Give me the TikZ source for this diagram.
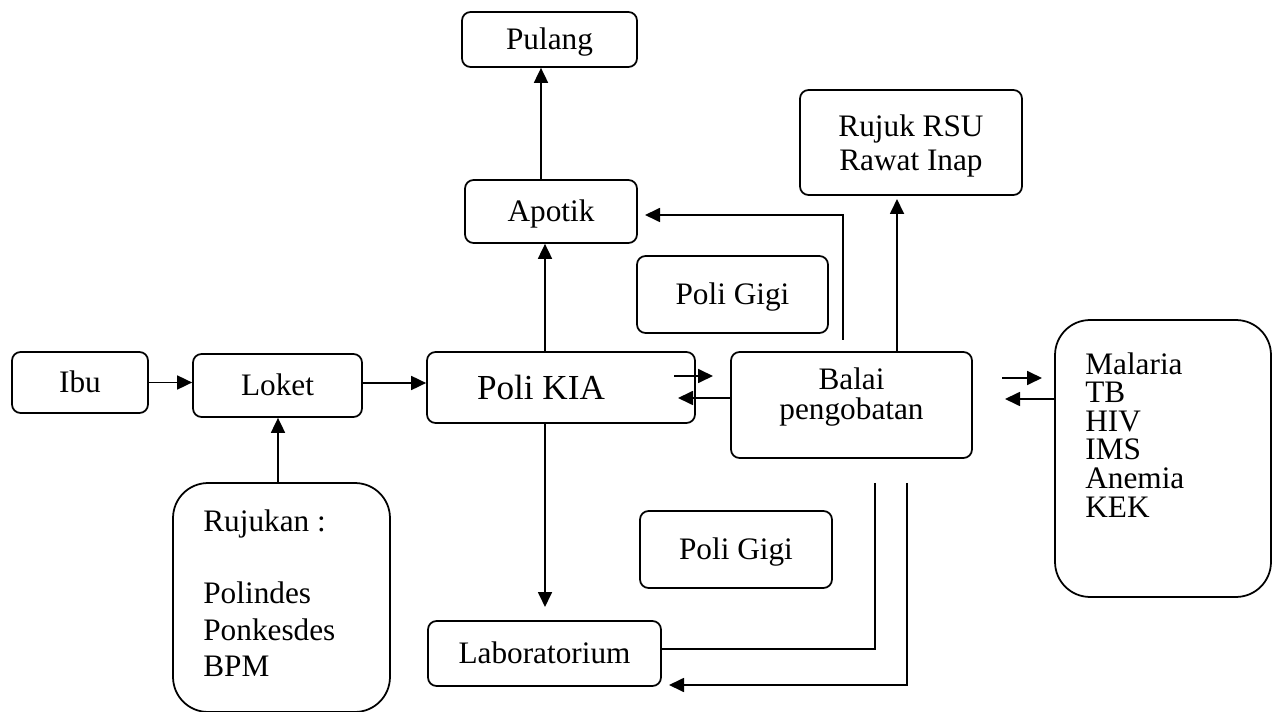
\documentclass[tikz,border=0pt]{standalone}
\usepackage{fontspec}
\setmainfont{Liberation Serif}
\usetikzlibrary{arrows.meta}
\begin{document}
\begin{tikzpicture}[x=0.02cm,y=-0.02cm,
  box/.style={draw, line width=1pt, rounded corners=0.17cm, inner sep=0pt, align=center,
    font=\fontsize{17.8pt}{19.3pt}\selectfont, text height=11.8pt, text depth=0pt},
  bigbox/.style={draw, line width=1pt, rounded corners=0.7cm, inner sep=0pt},
  txt/.style={inner sep=0pt, align=left, font=\fontsize{17.8pt}{16.3pt}\selectfont},
  conn/.style={line width=1pt},
  arr/.style={conn, -{Triangle[length=0.3cm,width=0.28cm]}}]
\useasboundingbox (0,0) rectangle (1274,712);

% boxes
\node[box, minimum width=2.72cm, minimum height=1.22cm] (ibu) at (80,382.5) {Ibu};
\node[box, minimum width=3.38cm, minimum height=1.26cm] (loket) at (277.5,385.5) {Loket};
\node[box, minimum width=5.36cm, minimum height=1.42cm] (kia) at (561,387.5) {};
\node[txt, font=\fontsize{20pt}{20pt}\selectfont, text height=13.2pt, text depth=0pt] (kiat) at (541,387.5) {Poli KIA};
\node[box, minimum width=4.82cm, minimum height=2.12cm] (balai) at (851.5,405) {};
\node[txt, align=center, font=\fontsize{17.8pt}{17.5pt}\selectfont] (balait) at (851.5,397) {Balai\\pengobatan};
\node[bigbox, minimum width=4.32cm, minimum height=5.54cm] (mal) at (1163,458.5) {};
\node[txt, anchor=north west] (malt) at (1085,352) {Malaria\\TB\\HIV\\IMS\\Anemia\\KEK};
\node[box, minimum width=3.5cm, minimum height=1.1cm] (pulang) at (549.5,39.5) {Pulang};
\node[box, minimum width=3.44cm, minimum height=1.26cm] (apotik) at (551,211.5) {Apotik};
\node[box, minimum width=4.44cm, minimum height=2.1cm, text height=, text depth=0pt] (rsu) at (911,142.5) {Rujuk RSU\\Rawat Inap};
\node[box, minimum width=3.82cm, minimum height=1.54cm] (gigi1) at (732.5,294.5) {Poli Gigi};
\node[box, minimum width=3.84cm, minimum height=1.54cm] (gigi2) at (736,549.5) {Poli Gigi};
\node[box, minimum width=4.66cm, minimum height=1.3cm] (lab) at (544.5,653.5) {Laboratorium};
\node[bigbox, minimum width=4.34cm, minimum height=4.58cm] (ruj) at (281.5,597.5) {};
\node[txt, anchor=north west, font=\fontsize{17.8pt}{20.7pt}\selectfont] (rujt) at (203,509)
  {Rujukan :\\[20.7pt]Polindes\\Ponkesdes\\BPM};

% free ends
\coordinate (a1s) at (674,376);
\coordinate (a1e) at (713,376);
\coordinate (a2e) at (678,398);
\coordinate (m1s) at (1002,378);
\coordinate (m1e) at (1042,378);
\coordinate (m2e) at (1005,399);
\coordinate (labtip) at (545,607);
\coordinate (ap1) at (843,340);
\coordinate (ap2) at (843,215);
\coordinate (ap3) at (645,215);
\coordinate (l1a) at (875,483);
\coordinate (l1b) at (875,649);
\coordinate (l2a) at (907,483);
\coordinate (l2b) at (907,685);
\coordinate (l2c) at (669,685);
\coordinate (rsutip) at (897,199);

% connectors
\draw[arr] (ibu.east) -- (ibu.east -| loket.west);
\draw[arr] (loket.east |- 0,383) -- (kia.west |- 0,383);
\draw[arr] (ruj.north -| 278,0) -- (loket.south -| 278,0);
\draw[arr] (kia.north -| 545,0) -- (apotik.south -| 545,0);
\draw[arr] (apotik.north -| 541,0) -- (pulang.south -| 541,0);
\draw[arr] (kia.south -| 545,0) -- (labtip);
\draw[arr] (a1s) -- (a1e);
\draw[arr] (balai.west |- a2e) -- (a2e);
\draw[arr] (m1s) -- (m1e);
\draw[arr] (mal.west |- m2e) -- (m2e);
\draw[arr] (balai.north -| rsutip) -- (rsutip);
\draw[arr] (ap1) -- (ap2) -- (ap3);
\draw[conn] (l1a) -- (l1b) -- (lab.east |- l1b);
\draw[arr] (l2a) -- (l2b) -- (l2c);
\end{tikzpicture}
\end{document}
